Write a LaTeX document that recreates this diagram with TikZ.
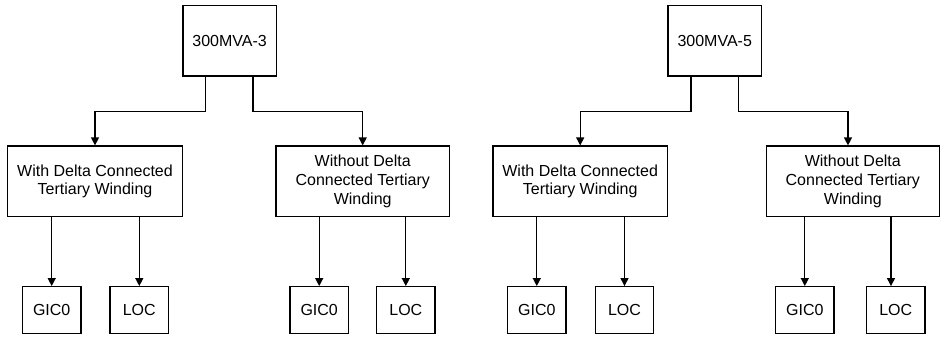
\documentclass[tikz,border=0pt]{standalone}
\usepackage{fontspec}
\setmainfont{Liberation Sans}
\usetikzlibrary{arrows.meta}
\begin{document}
\begin{tikzpicture}[x=1pt,y=-1pt,
  box/.style={draw=black,line width=1.3pt,rectangle,inner sep=0pt,align=center,
    font=\fontsize{16}{18.7}\selectfont},
  topbox/.style={box,minimum width=93.5pt,minimum height=70.5pt},
  midbox/.style={box,minimum width=174.5pt,minimum height=70.5pt},
  leafbox/.style={box,minimum width=58.5pt,minimum height=47pt},
  arr/.style={draw=black,line width=1.3pt,-{Triangle[width=8pt,length=8pt]}}]
\useasboundingbox (0,0) rectangle (940,337);
% top nodes
\node[topbox] (t1) at (229.6,40.9) {300MVA-3};
\node[topbox] (t2) at (714.7,40.9) {300MVA-5};
% middle nodes
\node[midbox] (m1) at (95,181.3) {With Delta Connected\\Tertiary Winding};
\node[midbox,minimum width=173.3pt] (m2) at (362.7,181.3) {Without Delta\\Connected Tertiary\\Winding};
\node[midbox] (m3) at (580.2,181.3) {With Delta Connected\\Tertiary Winding};
\node[midbox,minimum width=173.3pt] (m4) at (852.8,181.3) {Without Delta\\Connected Tertiary\\Winding};
% leaves
\node[leafbox] (g1) at (51.7,310.2) {GIC0};
\node[leafbox] (l1) at (139.3,310.2) {LOC};
\node[leafbox] (g2) at (319.2,310.2) {GIC0};
\node[leafbox] (l2) at (405.8,310.2) {LOC};
\node[leafbox] (g3) at (536.8,310.2) {GIC0};
\node[leafbox] (l3) at (624.5,310.2) {LOC};
\node[leafbox] (g4) at (804.8,310.2) {GIC0};
\node[leafbox] (l4) at (895.7,310.2) {LOC};
% connector end points
\coordinate (m4in) at ([xshift=-4.8pt]m4.north);
\coordinate (l4in) at ([xshift=-4.7pt]l4.north);
% top connectors
\draw[arr] ([xshift=-23.9pt]t1.south) -- ++(0,34.7) -| (m1.north);
\draw[arr] ([xshift=23.4pt]t1.south) -- ++(0,34.7) -| (m2.north);
\draw[arr] ([xshift=-23.7pt]t2.south) -- ++(0,34.7) -| (m3.north);
\draw[arr] ([xshift=23.6pt]t2.south) -- ++(0,34.7) -| (m4in);
% leaf connectors
\draw[arr] (m1.south -| g1.north) -- (g1.north);
\draw[arr] (m1.south -| l1.north) -- (l1.north);
\draw[arr] (m2.south -| g2.north) -- (g2.north);
\draw[arr] (m2.south -| l2.north) -- (l2.north);
\draw[arr] (m3.south -| g3.north) -- (g3.north);
\draw[arr] (m3.south -| l3.north) -- (l3.north);
\draw[arr] (m4.south -| g4.north) -- (g4.north);
\draw[arr] (m4.south -| l4in) -- (l4in);
\end{tikzpicture}
\end{document}
